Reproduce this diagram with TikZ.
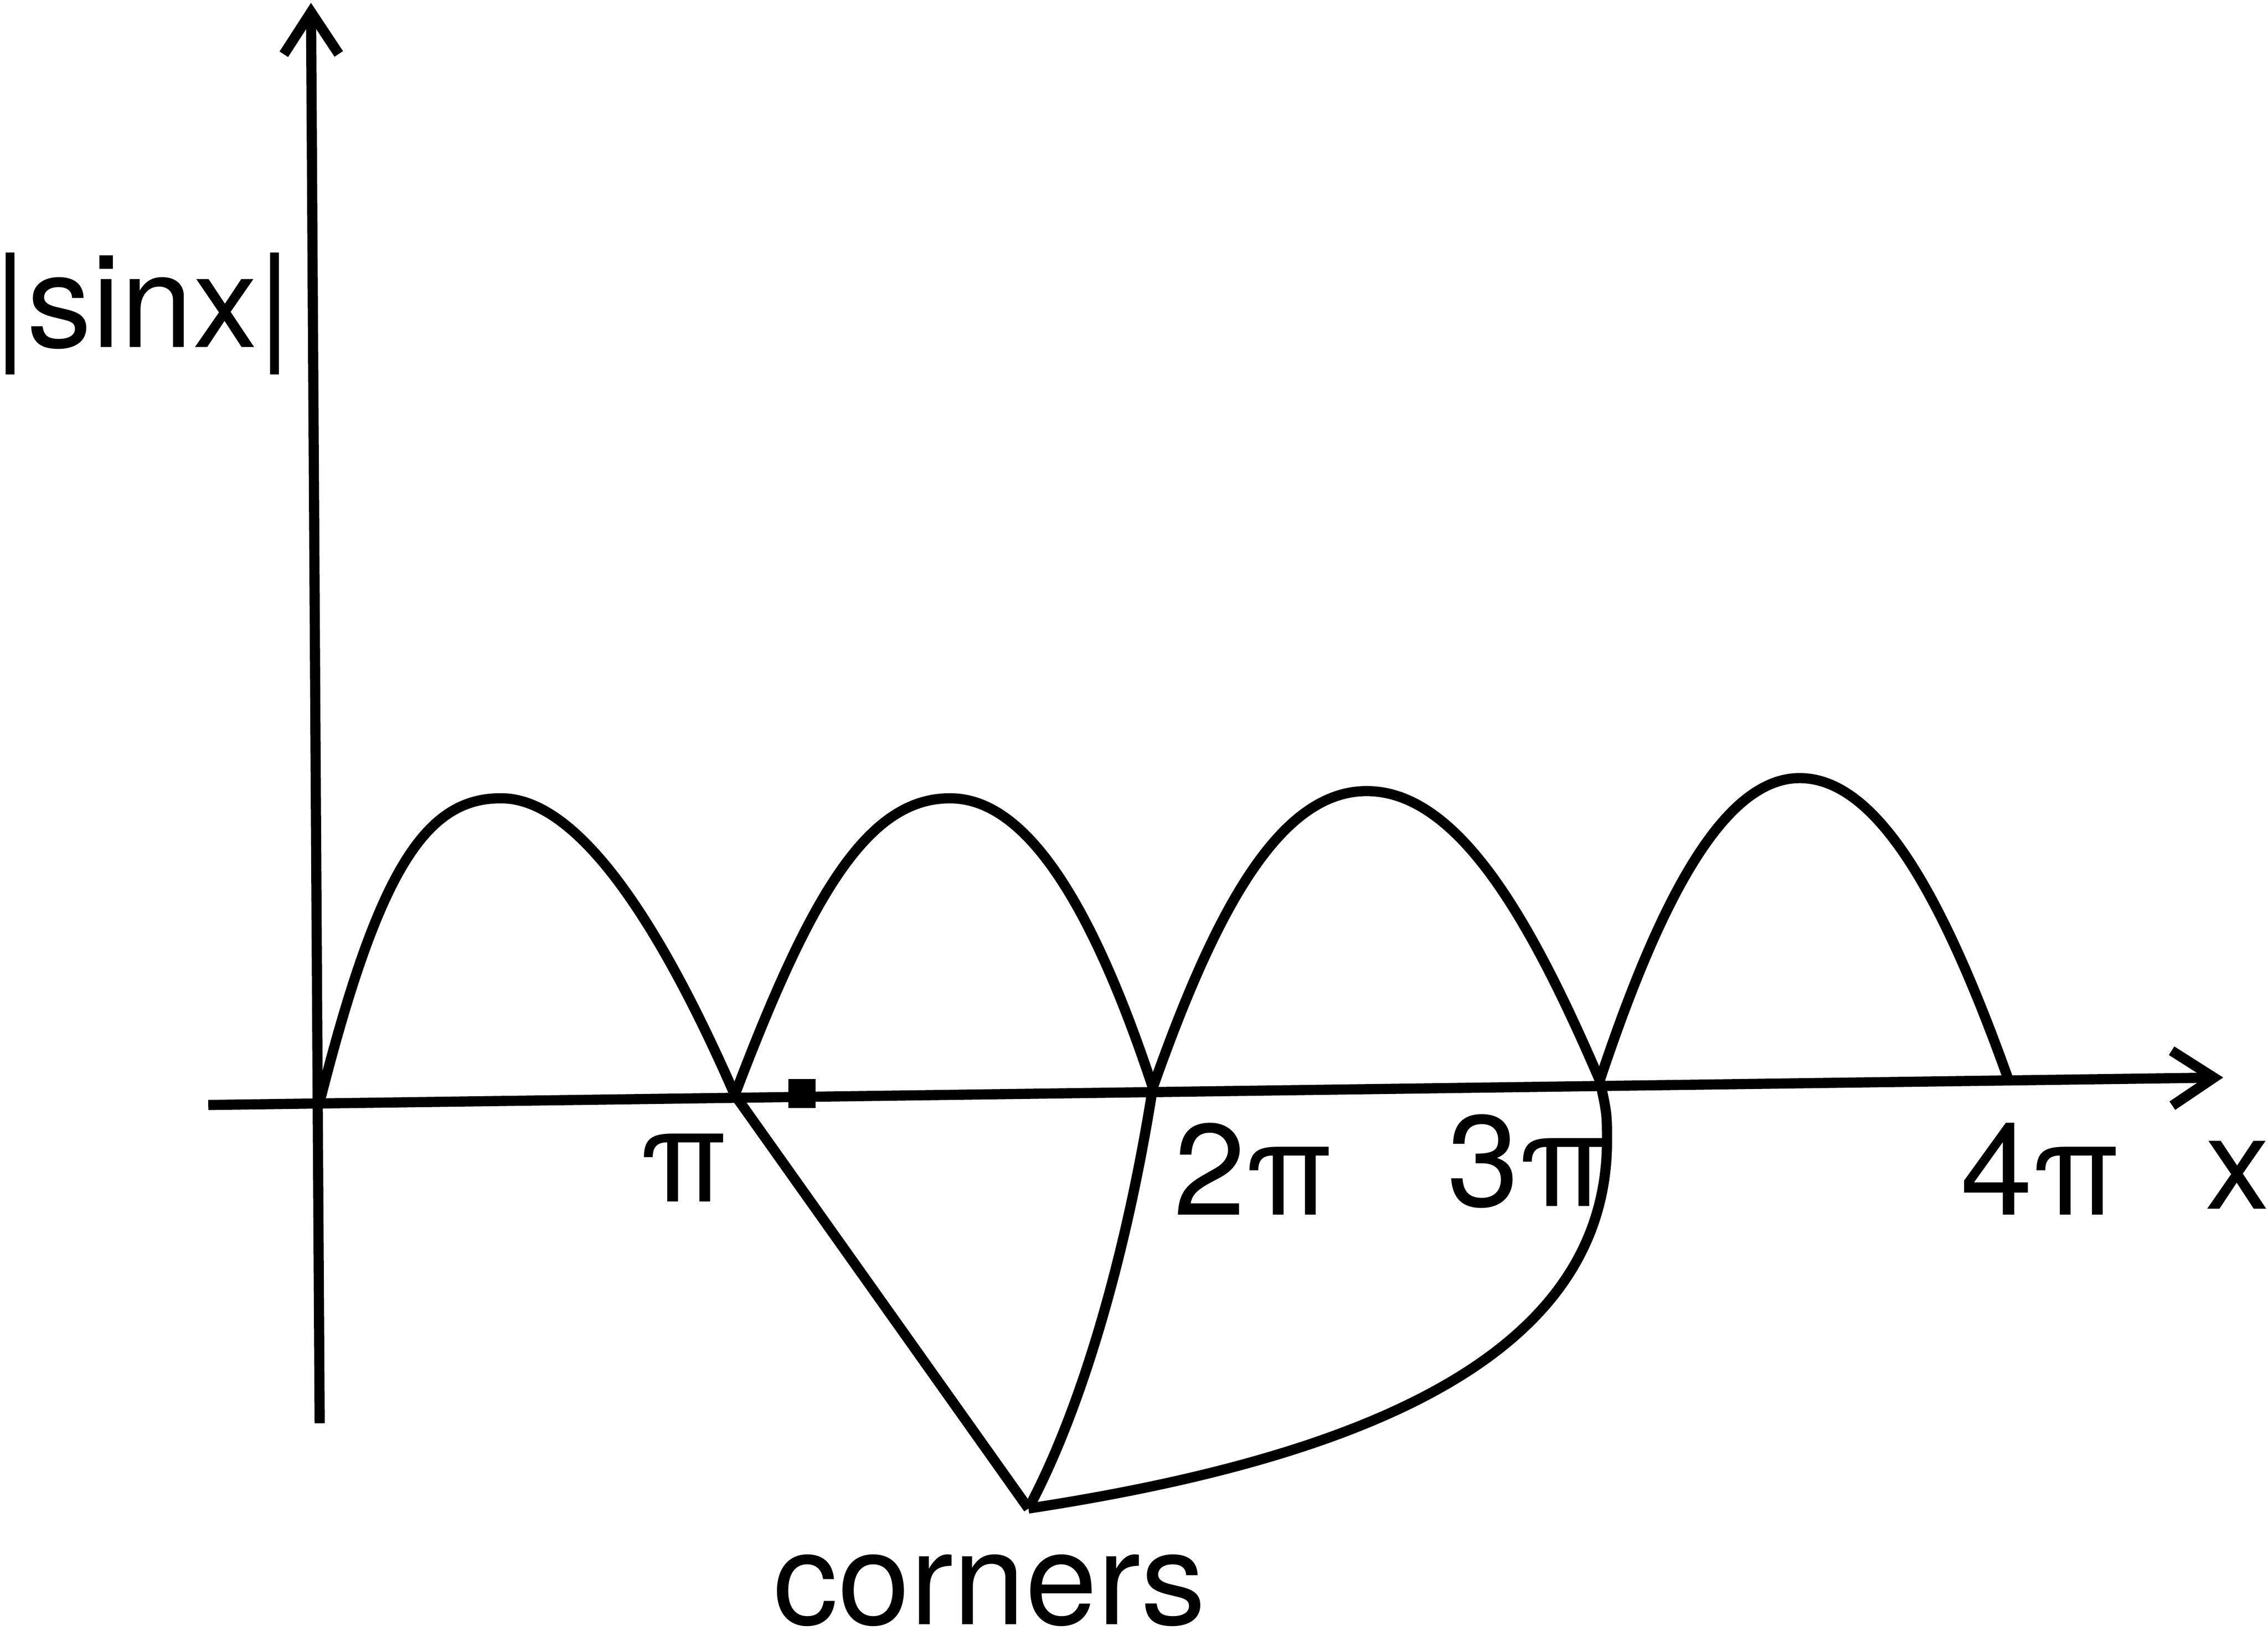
\documentclass[tikz,border=0pt]{standalone}
\usepackage{fontspec}
\setmainfont{TeX Gyre Heros}
\usetikzlibrary{arrows.meta}
\tikzset{
  lbl/.style={anchor=base west, inner sep=0pt, font=\fontsize{51}{60}\selectfont},
  curve/.style={line width=4pt, line join=round},
  >={Straight Barb[length=5.8mm, width=7.6mm, line width=4pt]}
}
\begin{document}
\begin{tikzpicture}[x=0.02cm, y=-0.02cm, line width=4pt]
\useasboundingbox (0,0) rectangle (1568,1127.5);
% zeros on the axis and the corner
\coordinate (z0) at (221,762);
\coordinate (z1) at (508,757);
\coordinate (z2) at (797,752);
\coordinate (z3) at (1106,747);
\coordinate (z4) at (1388,745);
\coordinate (cn) at (711,1043);

% Axes
\draw[->] (221,984) -- (215,2);
\draw[->] (144,764) -- (1537,745);
\fill (545,746) rectangle (564,766);

% |sin x| arches
\draw[curve] (z0) .. controls (262,600) and (295,550) .. (349,552)
  .. controls (410,555) and (470,670) .. (z1);
\draw[curve] (z1) .. controls (560,620) and (600,550) .. (659,552)
  .. controls (715,554) and (760,640) .. (z2);
\draw[curve] (z2) .. controls (840,630) and (885,545) .. (947,547)
  .. controls (1010,549) and (1060,640) .. (z3);
\draw[curve] (z3) .. controls (1145,630) and (1190,536) .. (1246,538)
  .. controls (1300,540) and (1345,625) .. (z4);

% corners
\draw[curve] (z1) -- (cn);
\draw[curve] (cn) .. controls (750,970) and (780,860) .. (z2);
\draw[curve] (cn) .. controls (960,1005) and (1110,930) .. (1111,790)
  .. controls (1111,770) .. (z3);

% labels
\node[lbl] (ylab) at (-8,240) {|sinx|};
\node[lbl] (pi1) at (439,831) {π};
\node[lbl] (pi2) at (808,840) {2π};
\node[lbl] (pi3) at (997,834) {3π};
\node[lbl] (pi4) at (1352,840) {4π};
\node[lbl] (xlab) at (1521,836) {x};
\node[lbl] (clab) at (531,1123) {corners};
\end{tikzpicture}
\end{document}
